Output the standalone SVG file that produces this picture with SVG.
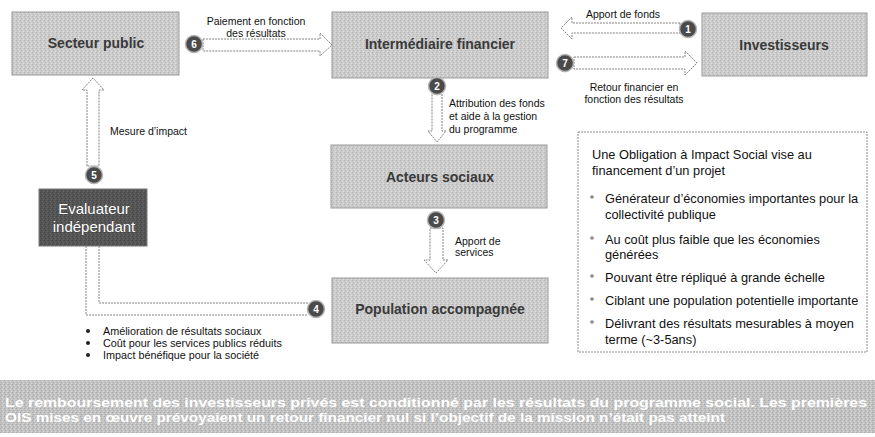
<svg xmlns="http://www.w3.org/2000/svg" width="875" height="437" viewBox="0 0 875 437">
<style>
text{font-family:"Liberation Sans",Arial,sans-serif}
.box{fill:url(#tex);stroke:#9a9a9a;stroke-width:1}
.dark{fill:url(#texd);stroke:#777;stroke-width:1}
.bt{font-size:14px;font-weight:bold;fill:#3a3a3a;text-anchor:middle}
.wt{font-size:15px;fill:#fff;text-anchor:middle;stroke:#333;stroke-width:0.4;paint-order:stroke}
.arr{fill:#fff;stroke:#777;stroke-width:0.9;stroke-dasharray:2 1}
.lbl{font-size:10.5px;fill:#111}
.num circle{fill:#4a4a4a;stroke:#b5b5b5;stroke-width:1.5}
.num text{font-size:10px;font-weight:bold;fill:#fff;text-anchor:middle}
.rt{font-size:12.8px;fill:#111}
.rb{fill:#888}
.ban{font-size:13.5px;font-weight:bold;fill:#fff}
</style>
<defs>
<pattern id="tex" width="4" height="4" patternUnits="userSpaceOnUse">
<rect width="4" height="4" fill="#cbcbcb"/>
<rect x="0" y="0" width="1" height="1" fill="#b4b4b4"/>
<rect x="2" y="1" width="1" height="1" fill="#e0e0e0"/>
<rect x="1" y="2" width="1" height="1" fill="#b8b8b8"/>
<rect x="3" y="3" width="1" height="1" fill="#dedede"/>
</pattern>
<pattern id="texd" width="4" height="4" patternUnits="userSpaceOnUse">
<rect width="4" height="4" fill="#555"/>
<rect x="0" y="0" width="1" height="1" fill="#444"/>
<rect x="2" y="1" width="1" height="1" fill="#6a6a6a"/>
<rect x="1" y="2" width="1" height="1" fill="#464646"/>
<rect x="3" y="3" width="1" height="1" fill="#666"/>
</pattern>
<pattern id="texb" width="4" height="4" patternUnits="userSpaceOnUse">
<rect width="4" height="4" fill="#c2c2c2"/>
<rect x="0" y="0" width="1" height="1" fill="#a8a8a8"/>
<rect x="2" y="1" width="1" height="1" fill="#dadada"/>
<rect x="1" y="2" width="1" height="1" fill="#ababab"/>
<rect x="3" y="3" width="1" height="1" fill="#d6d6d6"/>
</pattern>
</defs>
<rect width="875" height="437" fill="#fff"/>

<g id="connectors">
<polygon class="arr" points="203,39 320,39 320,33 332,45 320,56 320,51 203,51"/>
<text class="lbl" x="256" y="25" text-anchor="middle">Paiement en fonction</text>
<text class="lbl" x="256" y="37" text-anchor="middle">des résultats</text>
<polygon class="arr" points="680,23 572,23 572,17 561,28 572,39 572,33 680,33"/>
<text class="lbl" x="623" y="18" text-anchor="middle">Apport de fonds</text>
<polygon class="arr" points="574,57 685,57 685,51 697,63 685,75 685,69 574,69"/>
<text class="lbl" x="634" y="91" text-anchor="middle">Retour financier en</text>
<text class="lbl" x="634" y="103" text-anchor="middle">fonction des résultats</text>
<polygon class="arr" points="432,92 442,92 442,131 446,131 437,142 428,131 432,131"/>
<text class="lbl" x="449" y="107">Attribution des fonds</text>
<text class="lbl" x="449" y="120">et aide à la gestion</text>
<text class="lbl" x="449" y="133">du programme</text>
<polygon class="arr" points="430,228 443,228 443,260 448,260 436,273 424,260 430,260"/>
<text class="lbl" x="455" y="245">Apport de</text>
<text class="lbl" x="455" y="256">services</text>
<polygon class="arr" points="87,166 87,90 82,90 93,78 104,90 99,90 99,166"/>
<text class="lbl" x="110" y="135">Mesure d’impact</text>
<polyline class="arr" fill="none" style="fill:none" points="86,246 86,315 308,315"/>
<polyline class="arr" style="fill:none" points="99,246 99,303 308,303"/>
</g>

<g id="secteur-public">
<rect class="box" x="12" y="12" width="167" height="63"/>
<text class="bt" x="96" y="48">Secteur public</text>
</g>
<g id="intermediaire-financier">
<rect class="box" x="332" y="12" width="216" height="66"/>
<text class="bt" x="440" y="49">Intermédiaire financier</text>
</g>
<g id="investisseurs">
<rect class="box" x="702" y="13" width="165" height="63"/>
<text class="bt" x="784" y="50">Investisseurs</text>
</g>
<g id="acteurs-sociaux">
<rect class="box" x="331" y="145" width="216" height="63"/>
<text class="bt" x="440" y="182">Acteurs sociaux</text>
</g>
<g id="population-accompagnee">
<rect class="box" x="332" y="278" width="216" height="65"/>
<text class="bt" x="440" y="314">Population accompagnée</text>
</g>
<g id="evaluateur-independant">
<rect class="dark" x="39" y="189" width="108" height="57"/>
<text class="wt" x="94" y="214">Evaluateur</text>
<text class="wt" x="94" y="232">indépendant</text>
</g>

<g id="badges" class="num">
<g><circle cx="688" cy="29" r="8.5"/><text x="688" y="32.5">1</text></g>
<g><circle cx="437" cy="86" r="8.5"/><text x="437" y="89.5">2</text></g>
<g><circle cx="436" cy="220" r="8.5"/><text x="436" y="223.5">3</text></g>
<g><circle cx="316" cy="309" r="8.5"/><text x="316" y="312.5">4</text></g>
<g><circle cx="94" cy="175" r="8.5"/><text x="94" y="178.5">5</text></g>
<g><circle cx="194" cy="44" r="8.5"/><text x="194" y="47.5">6</text></g>
<g><circle cx="565" cy="63" r="8.5"/><text x="565" y="66.5">7</text></g>
</g>

<g id="benefits">
<circle cx="88" cy="331" r="2" fill="#222"/>
<circle cx="88" cy="343" r="2" fill="#222"/>
<circle cx="88" cy="355" r="2" fill="#222"/>
<text class="lbl" x="103" y="335" style="font-size:10.8px">Amélioration de résultats sociaux</text>
<text class="lbl" x="103" y="347" style="font-size:10.8px">Coût pour les services publics réduits</text>
<text class="lbl" x="103" y="359" style="font-size:10.8px">Impact bénéfique pour la société</text>
</g>

<g id="info-box">
<rect x="578" y="132" width="289" height="220" fill="#fff" stroke="#8a8a8a" stroke-width="1" stroke-dasharray="2 1"/>
<text class="rt" x="592" y="159">Une Obligation à Impact Social vise au</text>
<text class="rt" x="592" y="175">financement d’un projet</text>
<circle class="rb" cx="592" cy="197" r="1.8"/>
<text class="rt" x="605" y="203">Générateur d’économies importantes pour la</text>
<text class="rt" x="605" y="219">collectivité publique</text>
<circle class="rb" cx="592" cy="238" r="1.8"/>
<text class="rt" x="605" y="244">Au coût plus faible que les économies</text>
<text class="rt" x="605" y="259">générées</text>
<circle class="rb" cx="592" cy="276" r="1.8"/>
<text class="rt" x="605" y="282">Pouvant être répliqué à grande échelle</text>
<circle class="rb" cx="592" cy="299" r="1.8"/>
<text class="rt" x="605" y="305">Ciblant une population potentielle importante</text>
<circle class="rb" cx="592" cy="322" r="1.8"/>
<text class="rt" x="605" y="328">Délivrant des résultats mesurables à moyen</text>
<text class="rt" x="605" y="344">terme (~3-5ans)</text>
</g>

<g id="banner">
<rect x="0" y="380" width="875" height="53" fill="url(#texb)"/>
<text class="ban" x="5" y="407" textLength="862" lengthAdjust="spacingAndGlyphs">Le remboursement des investisseurs privés est conditionné par les résultats du programme social. Les premières</text>
<text class="ban" x="5" y="422" textLength="720" lengthAdjust="spacingAndGlyphs">OIS mises en œuvre prévoyaient un retour financier nul si l’objectif de la mission n’était pas atteint</text>
</g>
</svg>
